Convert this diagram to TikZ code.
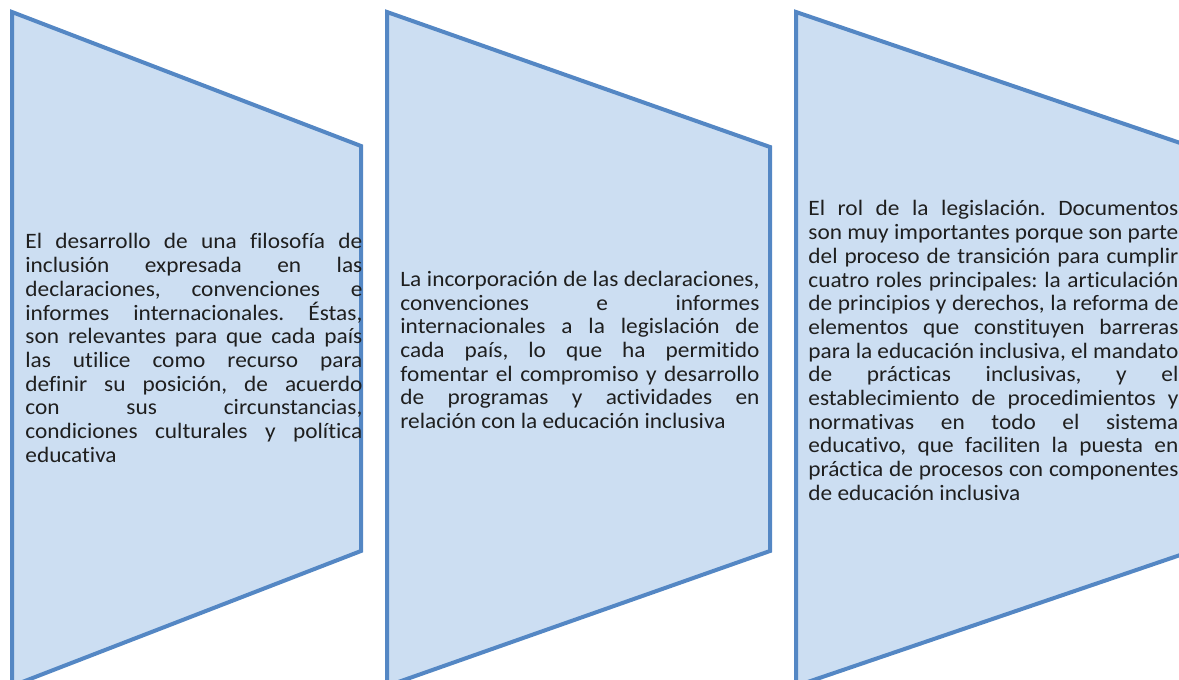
\documentclass[tikz,border=0pt]{standalone}
\usepackage{fontspec}
\setmainfont{Carlito}[FakeStretch=1.06,Ligatures=NoCommon]
\definecolor{relleno}{RGB}{204,222,242}
\definecolor{borde}{RGB}{84,135,196}
\tolerance=10000
\hyphenpenalty=10000
\frenchspacing

\begin{document}
\begin{tikzpicture}[
    x=0.5pt, y=-0.5pt,
    bloque/.style={draw=borde,fill=relleno,line width=2pt},
    texto/.style={anchor=north west,inner sep=0pt,align=justify,text=black!88,
      font=\fontsize{11}{11.85}\selectfont}]

  \useasboundingbox (0,0) rectangle (1179,680);

  \draw[bloque] (12,12) -- (361,146) -- (361,551) -- (12,686) -- cycle;     % primer bloque
  \draw[bloque] (387,12) -- (770,147) -- (770,551) -- (387,686) -- cycle;   % segundo bloque
  \draw[bloque] (796,12) -- (1192,147) -- (1192,551) -- (796,686) -- cycle; % tercer bloque

  \node[texto,text width=168.5pt] (t1) at (25,232) {\strut El desarrollo de una filosofía de\linebreak
    inclusión expresada en las\linebreak
    declaraciones, convenciones e\linebreak
    informes internacionales. Éstas,\linebreak
    son relevantes para que cada país\linebreak
    las utilice como recurso para\linebreak
    definir su posición, de acuerdo\linebreak
    con sus circunstancias,\linebreak
    condiciones culturales y política\linebreak
    educativa};

  \node[texto,text width=179.5pt] (t2) at (400,269.5) {\strut La incorporación de las declaraciones,\linebreak
    convenciones e informes\linebreak
    internacionales a la legislación de\linebreak
    cada país, lo que ha permitido\linebreak
    fomentar el compromiso y desarrollo\linebreak
    de programas y actividades en\linebreak
    relación con la educación inclusiva};

  \node[texto,text width=185pt] (t3) at (808,199) {\strut El rol de la legislación. Documentos\linebreak
    son muy importantes porque son parte\linebreak
    del proceso de transición para cumplir\linebreak
    cuatro roles principales: la articulación\linebreak
    de principios y derechos, la reforma de\linebreak
    elementos que constituyen barreras\linebreak
    para la educación inclusiva, el mandato\linebreak
    de prácticas inclusivas, y el\linebreak
    establecimiento de procedimientos y\linebreak
    normativas en todo el sistema\linebreak
    educativo, que faciliten la puesta en\linebreak
    práctica de procesos con componentes\linebreak
    de educación inclusiva};

\end{tikzpicture}
\end{document}
